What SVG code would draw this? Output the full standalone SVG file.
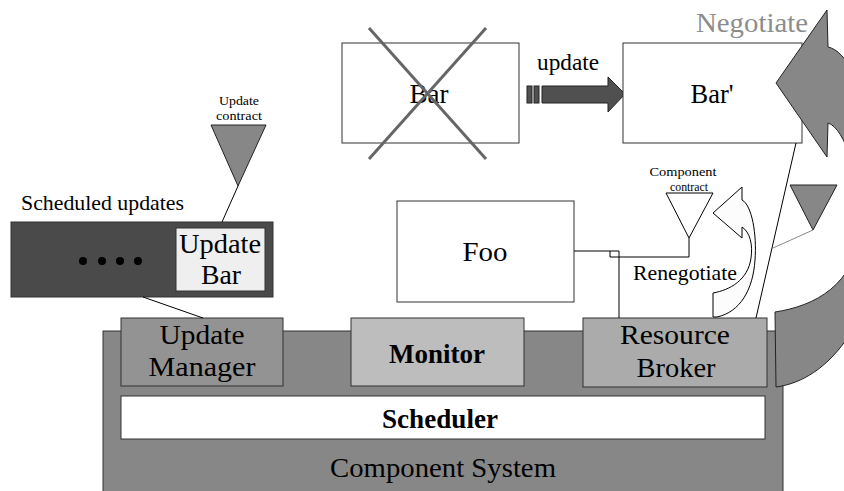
<svg xmlns="http://www.w3.org/2000/svg" width="844" height="491" viewBox="0 0 844 491">
<style>
text{font-family:"Liberation Serif",Tinos,"Times New Roman",Times,serif;fill:#000}
.big{font-size:27px}
.mid{font-size:22px}
.sm{font-size:13px}
.bold{font-weight:bold}
.box{stroke:#333;stroke-width:1}
.ln{stroke:#000;stroke-width:1;fill:none}
</style>
<rect width="844" height="491" fill="#fff"/>

<g id="component-system">
<rect class="box" x="103" y="331" width="680" height="170" fill="#878787"/>
<text class="big" x="443" y="477" text-anchor="middle" textLength="226" lengthAdjust="spacingAndGlyphs">Component System</text>
</g>

<g id="update-manager">
<rect class="box" x="121" y="318" width="162" height="68" fill="#939393"/>
<text class="big" x="202" y="344" text-anchor="middle" textLength="85" lengthAdjust="spacingAndGlyphs">Update</text>
<text class="big" x="202" y="376" text-anchor="middle" textLength="107" lengthAdjust="spacingAndGlyphs">Manager</text>
</g>

<g id="monitor">
<rect class="box" x="351" y="318" width="173" height="68" fill="#bdbdbd"/>
<text class="big bold" x="437" y="363" text-anchor="middle" textLength="96" lengthAdjust="spacingAndGlyphs">Monitor</text>
</g>

<g id="resource-broker">
<rect class="box" x="583" y="318" width="184" height="69" fill="#ababab"/>
<text class="big" x="675" y="344" text-anchor="middle" textLength="110" lengthAdjust="spacingAndGlyphs">Resource</text>
<text class="big" x="676" y="377" text-anchor="middle" textLength="79" lengthAdjust="spacingAndGlyphs">Broker</text>
</g>

<g id="scheduler">
<rect class="box" x="121" y="396" width="644" height="43" fill="#fff"/>
<text class="big bold" x="440" y="428" text-anchor="middle" textLength="116" lengthAdjust="spacingAndGlyphs">Scheduler</text>
</g>

<g id="scheduled-updates">
<text class="mid" x="21" y="210" textLength="163" lengthAdjust="spacingAndGlyphs">Scheduled updates</text>
<rect class="box" x="11" y="222" width="262" height="75" fill="#4a4a4a"/>
<circle cx="83" cy="261" r="4" fill="#000"/>
<circle cx="102" cy="261" r="4" fill="#000"/>
<circle cx="120" cy="261" r="4" fill="#000"/>
<circle cx="138" cy="261" r="4" fill="#000"/>
<g id="update-bar">
<rect class="box" x="176" y="228" width="89" height="63" fill="#efefef"/>
<text class="big" x="220" y="253" text-anchor="middle" textLength="82" lengthAdjust="spacingAndGlyphs">Update</text>
<text class="big" x="221" y="284" text-anchor="middle" textLength="40" lengthAdjust="spacingAndGlyphs">Bar</text>
</g>
</g>

<g id="update-contract">
<polygon points="211,125 266,125 238,186" fill="#878787" stroke="#222" stroke-width="1"/>
<text class="sm" x="239" y="105" text-anchor="middle" textLength="40" lengthAdjust="spacingAndGlyphs">Update</text>
<text class="sm" x="239" y="120" text-anchor="middle" textLength="46" lengthAdjust="spacingAndGlyphs">contract</text>
</g>

<g id="bar-old">
<rect class="box" x="342" y="43" width="177" height="100" fill="#fff"/>
<text class="big" x="429" y="103" text-anchor="middle" textLength="39" lengthAdjust="spacingAndGlyphs">Bar</text>
<line x1="369" y1="28" x2="486" y2="159" stroke="#666" stroke-width="3"/>
<line x1="486" y1="28" x2="369" y2="159" stroke="#666" stroke-width="3"/>
</g>

<g id="update-arrow">
<rect x="527" y="86" width="5" height="17" fill="#505050" stroke="#222" stroke-width="1"/>
<rect x="534" y="86" width="5" height="17" fill="#505050" stroke="#222" stroke-width="1"/>
<path d="M542,86 L608,86 L608,77 L625,94 L608,112 L608,103 L542,103 Z" fill="#505050" stroke="#222" stroke-width="1"/>
<text class="mid" x="568" y="70" text-anchor="middle" style="font-size:23px" textLength="62" lengthAdjust="spacingAndGlyphs">update</text>
</g>

<g id="bar-new">
<rect class="box" x="623" y="43" width="179" height="100" fill="#fff"/>
<text class="big" x="712" y="103" text-anchor="middle" textLength="43" lengthAdjust="spacingAndGlyphs">Bar'</text>
</g>

<g id="negotiate-arrow">
<text class="big" x="752" y="32" text-anchor="middle" style="fill:#8c8c8c" textLength="112" lengthAdjust="spacingAndGlyphs">Negotiate</text>
<path d="M776,83 L827,10 L828,47 C865,55 890,180 880,250 C870,320 830,380 776,387 L775,312 C815,306 855,285 860,230 C862,180 845,128 828,123 L827,157 Z" fill="#878787" stroke="#222" stroke-width="1"/>
</g>

<g id="foo">
<rect class="box" x="397" y="201" width="177" height="101" fill="#fff"/>
<text class="big" x="485" y="261" text-anchor="middle" textLength="45" lengthAdjust="spacingAndGlyphs">Foo</text>
</g>

<g id="component-contract">
<polygon points="666,193 713,193 689,238" fill="#fff" stroke="#000" stroke-width="1"/>
<text class="sm" x="683" y="176" text-anchor="middle" style="font-size:12px" textLength="67" lengthAdjust="spacingAndGlyphs">Component</text>
<text class="sm" x="689" y="191" text-anchor="middle" style="font-size:12px" textLength="38" lengthAdjust="spacingAndGlyphs">contract</text>
</g>

<g id="gray-contract">
<polygon points="790,185 837,185 813,230" fill="#878787" stroke="#222" stroke-width="1"/>
</g>

<g id="renegotiate-arrow">
<path d="M713,213 L742,187 L742,200 C752,205 757,235 755,260 C753,290 740,312 717,317 L713,317 L713,293 C730,290 748,280 751,258 C753,245 750,232 742,227 L742,238 Z" fill="#fcfcfc" stroke="#000" stroke-width="1"/>
<text class="mid" x="685" y="280" text-anchor="middle" textLength="104" lengthAdjust="spacingAndGlyphs">Renegotiate</text>
</g>

<g id="connectors">
<line class="ln" x1="222" y1="222" x2="238" y2="186"/>
<line class="ln" x1="143" y1="297" x2="203" y2="318"/>
<polyline class="ln" points="574,251 619,251 619,318"/>
<polyline class="ln" points="689,238 689,257 610,257 610,251"/>
<line class="ln" x1="796" y1="143" x2="756" y2="318"/>
<line x1="813" y1="230" x2="773" y2="248" stroke="#888" stroke-width="1"/>
</g>
</svg>
